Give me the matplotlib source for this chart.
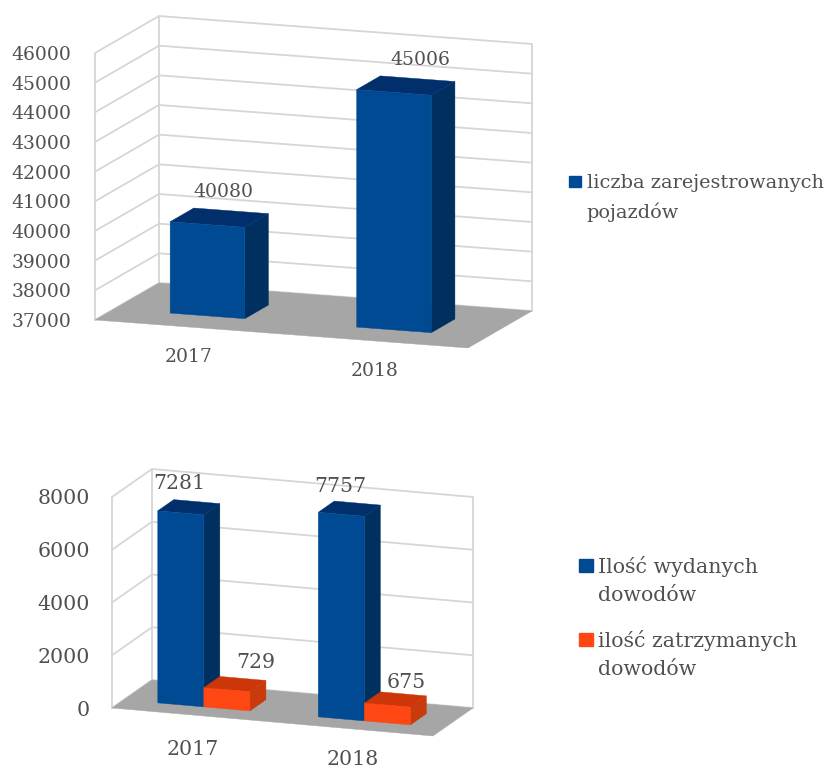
import matplotlib
matplotlib.use("Agg")
import matplotlib.pyplot as plt
from matplotlib.patches import Polygon, Rectangle, Patch
from matplotlib.legend_handler import HandlerPatch

plt.rcParams['font.family'] = ['DejaVu Serif']

# data
years = ['2017', '2018']
vehicles = [40080, 45006]
issued = [7281, 7757]
withheld = [729, 675]
top_ticks = [37000, 38000, 39000, 40000, 41000, 42000, 43000, 44000, 45000, 46000]
bottom_ticks = [0, 2000, 4000, 6000, 8000]
vehicles_name = 'liczba zarejestrowanych\npojazdów'
issued_name = 'Ilość wydanych\ndowodów'
withheld_name = 'ilość zatrzymanych\ndowodów'

BLUE = ('#004a94', '#002f6c', '#00305f')
ORANGE = ('#ff4713', '#cc3608', '#c93a0c')
TXT = '#505050'
GRID = '#d6d6d6'
FLOOR = '#a6a6a6'
FW, FH = 824, 769

fig = plt.figure(figsize=(FW / 100, FH / 100), dpi=100)


class Box3D:
    """Oblique projection of (category fraction, value, depth fraction) to axes data."""
    def __init__(self, left, right, ybot, ytop, ticks, sy, dx, dy, fs):
        self.ax = fig.add_axes([left / FW, 1 - ybot / FH, (right - left) / FW, (ybot - ytop) / FH])
        self.ax.set_xlim(0, 1)
        self.ax.set_ylim(ticks[0], ticks[-1])
        self.ax.patch.set_visible(False)
        for s in self.ax.spines.values():
            s.set_visible(False)
        self.w = right - left
        self.u = (ybot - ytop) / (ticks[-1] - ticks[0])
        self.sy, self.dx, self.dy = sy, dx, dy
        self.ticks = ticks
        self.fs = fs

    def p(self, a, v, d):
        return (a + d * self.dx / self.w, v + (d * self.dy - a * self.sy) / self.u)

    def poly(self, pts, color, z=2):
        self.ax.add_patch(Polygon([self.p(*q) for q in pts], closed=True, facecolor=color,
                                  edgecolor=color, lw=0.3, clip_on=False, zorder=z))

    def line(self, pts, lw=1.3):
        xs, ys = zip(*[self.p(*q) for q in pts])
        self.ax.plot(xs, ys, color=GRID, lw=lw, clip_on=False, zorder=1, solid_capstyle='round')

    def frame(self):
        lo, hi = self.ticks[0], self.ticks[-1]
        self.poly([(0, lo, 0), (1, lo, 0), (1, lo, 1), (0, lo, 1)], FLOOR, z=1.5)
        for t in self.ticks:
            self.line([(0, t, 0), (0, t, 1), (1, t, 1)])
        self.line([(0, lo, 0), (0, hi, 0)])
        self.line([(0, lo, 1), (0, hi, 1)])
        self.line([(1, lo, 1), (1, hi, 1)])

    def bar(self, a0, a1, v, d0, d1, colors, z):
        lo = self.ticks[0]
        front, top, side = colors
        self.poly([(a0, lo, d0), (a1, lo, d0), (a1, v, d0), (a0, v, d0)], front, z + 0.2)
        self.poly([(a0, v, d0), (a1, v, d0), (a1, v, d1), (a0, v, d1)], top, z + 0.1)
        self.poly([(a1, lo, d0), (a1, lo, d1), (a1, v, d1), (a1, v, d0)], side, z)

    def axes_text(self, pads, ypad):
        ax = self.ax
        ax.set_yticks(self.ticks)
        ax.set_yticklabels([str(t) for t in self.ticks], fontsize=self.fs, color=TXT)
        ax.tick_params(axis='y', length=0, pad=ypad)
        ax.set_xticks([0.25, 0.75])
        ax.set_xticklabels(years, fontsize=self.fs, color=TXT)
        ax.tick_params(axis='x', length=0)
        for tick, pad in zip(ax.xaxis.get_major_ticks(), pads):
            tick.set_pad(pad)

    def label(self, a, v, d, text, off):
        self.ax.annotate(text, xy=self.p(a, v, d), xytext=(off[0] / 1.389, off[1] / 1.389),
                         textcoords='offset points', ha='center', va='center',
                         fontsize=self.fs, color=TXT, zorder=10, annotation_clip=False)


def make_legend(handles, x, y, fs, hlen, tpad, spacing, linesp, shift):
    def swatch(legend, orig_handle, xdescent, ydescent, width, height, fontsize):
        return Rectangle((-xdescent, -ydescent + shift), width, width * 0.95)
    leg = fig.legend(handles=handles, loc='upper left', bbox_to_anchor=(x / FW, 1 - y / FH),
                     bbox_transform=fig.transFigure, frameon=False, fontsize=fs,
                     labelcolor=TXT, handlelength=hlen, handletextpad=tpad, borderpad=0,
                     borderaxespad=0, labelspacing=spacing,
                     handler_map={Patch: HandlerPatch(patch_func=swatch)})
    for t in leg.get_texts():
        t.set_linespacing(linesp)


# upper chart
top = Box3D(95, 468, 320, 53, top_ticks, 28, 64, 37, 13.5)
top.frame()
W1 = 0.2
for i, (c, v) in enumerate(zip([0.25, 0.75], vehicles)):
    top.bar(c - W1 / 2, c + W1 / 2, v, 0.30, 0.67, BLUE, 3 + i)
top.axes_text([20, 30], 17)
for c, v, off in zip([0.25, 0.75], vehicles, [(15.5, 33), (26.5, 32)]):
    top.label(c, v, 0.30, str(v), off)
make_legend([Patch(color=BLUE[0], label=vehicles_name)], 569, 174, 13.9, 0.62, 0.3, 0.5, 1.67, 12.6)

# lower chart
low = Box3D(112, 433, 708, 497, bottom_ticks, 28, 40, 28, 14.8)
low.frame()
W2 = 0.1435
for i, c in enumerate([0.25, 0.75]):
    low.bar(c - W2, c, issued[i], 0.29, 0.69, BLUE, 3 + 2 * i)
    low.bar(c, c + W2, withheld[i], 0.29, 0.69, ORANGE, 4 + 2 * i)
low.axes_text([23, 30], 16)
off_issued = [(-2, 29), (-1, 28)]
off_withheld = [(29, 27), (19, 23)]
for i, c in enumerate([0.25, 0.75]):
    low.label(c - W2 / 2, issued[i], 0.29, str(issued[i]), off_issued[i])
    low.label(c + W2 / 2, withheld[i], 0.29, str(withheld[i]), off_withheld[i])
make_legend([Patch(color=BLUE[0], label=issued_name), Patch(color=ORANGE[0], label=withheld_name)],
            579, 556, 14.8, 0.68, 0.25, 1.25, 1.58, 11.4)

fig.savefig('out.png', dpi=100, facecolor='white')
